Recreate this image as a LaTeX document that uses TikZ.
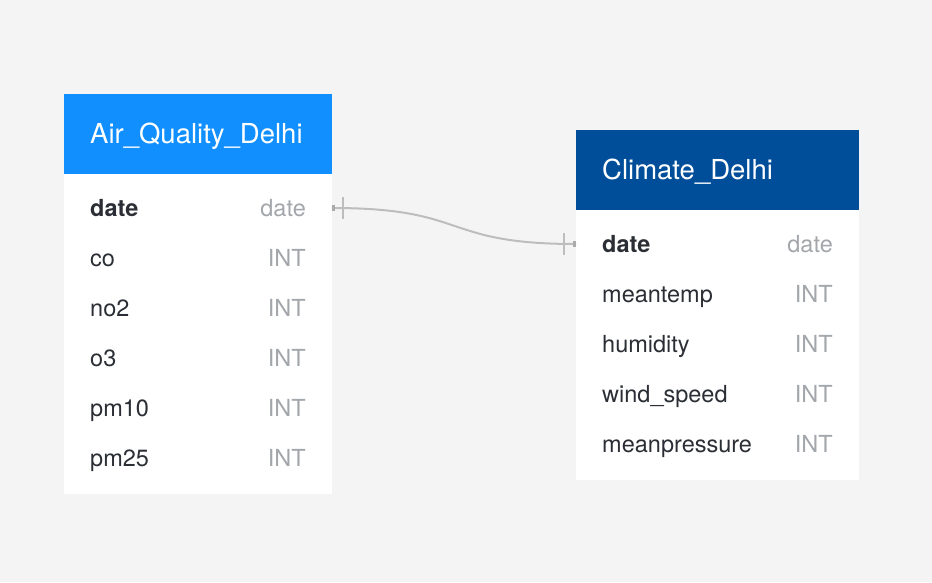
\documentclass[tikz,border=0pt]{standalone}
\usepackage{fontspec}
\setmainfont{TeX Gyre Heros}
\usepackage{xcolor}
\usepackage{tikz}
\usetikzlibrary{positioning}
\definecolor{canvas}{HTML}{F3F4F3}
\definecolor{headblue}{HTML}{118FFF}
\definecolor{headnavy}{HTML}{004E9A}
\definecolor{fieldtxt}{HTML}{2B2F35}
\definecolor{typetxt}{HTML}{A3A7AB}
\definecolor{linkgray}{HTML}{BDBDBD}

\begin{document}
\begin{tikzpicture}[
    x=1pt, y=-1pt,
    tablehead/.style={rectangle, anchor=north west, minimum height=80pt, inner sep=0pt},
    tablebody/.style={rectangle, fill=white, anchor=north west, inner sep=0pt},
    title/.style={anchor=base west, text=white, inner sep=0pt, font=\fontsize{27.5}{30}\selectfont},
    field/.style={anchor=base west, text=fieldtxt, inner sep=0pt, font=\fontsize{23.5}{26}\selectfont},
    ftype/.style={anchor=base east, text=typetxt, inner sep=0pt, font=\fontsize{23.5}{26}\selectfont},
    link/.style={draw=linkgray, line width=2pt}
]
    \useasboundingbox[fill=canvas] (0,0) rectangle (932,582);

    % Air quality table
    \node[tablehead, fill=headblue, minimum width=268pt] (aq-head) at (64,94) {};
    \node[tablebody, minimum width=268pt, minimum height=320pt] (aq-body) at (64,174) {};
    \node[title] (aq-title) at (90,143) {Air\_Quality\_Delhi};
    \node[field, font=\fontsize{23.5}{26}\selectfont\bfseries] (aq-f0) at (90,216) {date};
    \node[ftype] (aq-t0) at (306,216) {date};
    \foreach \fname/\ftype [count=\i] in {co/INT, no2/INT, o3/INT, pm10/INT, pm25/INT} {
        \node[field] (aq-f\i) at (90,{216+50*\i}) {\fname};
        \node[ftype] (aq-t\i) at (306,{216+50*\i}) {\ftype};
    }

    % Climate table
    \node[tablehead, fill=headnavy, minimum width=283pt] (cd-head) at (576,130) {};
    \node[tablebody, minimum width=283pt, minimum height=270pt] (cd-body) at (576,210) {};
    \node[title] (cd-title) at (602,179) {Climate\_Delhi};
    \node[field, font=\fontsize{23.5}{26}\selectfont\bfseries] (cd-f0) at (602,252) {date};
    \node[ftype] (cd-t0) at (833,252) {date};
    \foreach \fname/\ftype [count=\i] in {meantemp/INT, humidity/INT, wind\_speed/INT, meanpressure/INT} {
        \node[field] (cd-f\i) at (602,{252+50*\i}) {\fname};
        \node[ftype] (cd-t\i) at (833,{252+50*\i}) {\ftype};
    }

    % Relation date -- date
    \coordinate (aq-link) at (aq-body.east |- 0,208);
    \coordinate (cd-link) at (cd-body.west |- 0,244);
    \draw[link] (aq-link) .. controls (470,208) and (440,244) .. (cd-link);
    \draw[link] ([xshift=11pt]aq-link) ++(0,-11) -- ++(0,22);
    \draw[link] ([xshift=-12pt]cd-link) ++(0,-11) -- ++(0,22);
    \fill[linkgray!90!black] (aq-link) ++(0,-3) rectangle ++(3,6);
    \fill[linkgray!90!black] (cd-link) ++(0,-3) rectangle ++(-3,6);
\end{tikzpicture}
\end{document}
